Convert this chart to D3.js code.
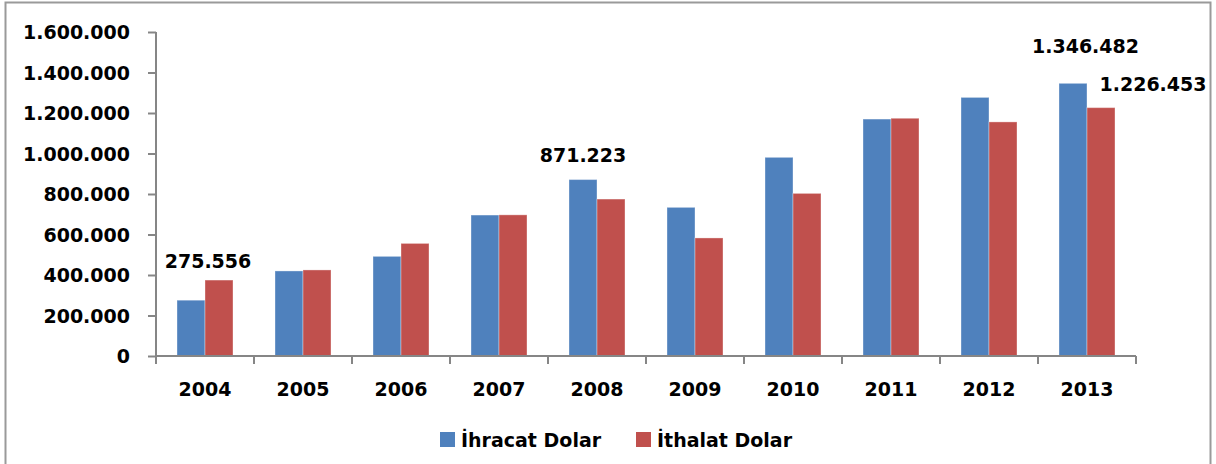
<!DOCTYPE html>
<html>
<head>
<meta charset="utf-8">
<script src="https://cdn.jsdelivr.net/npm/d3@7"></script>
<style>
  body { margin: 0; background: #fff; }
  text { font-family: "DejaVu Sans", sans-serif; font-weight: bold; fill: #000; }
</style>
</head>
<body>
<script>
// chart data
var years = ['2004', '2005', '2006', '2007', '2008', '2009', '2010', '2011', '2012', '2013'];
var ihracat = [275556, 420000, 492000, 696000, 871223, 734000, 981000, 1170000, 1277000, 1346482];
var ithalat = [375000, 425000, 556000, 697000, 775000, 583000, 803000, 1174000, 1156000, 1226453];
var seriesNames = ['İhracat Dolar', 'İthalat Dolar'];
var yTicks = [0, 200000, 400000, 600000, 800000, 1000000, 1200000, 1400000, 1600000];

// which values get a label: [series index, year index]
var labelled = [[0, 0], [0, 4], [0, 9], [1, 9]];

var width = 1216, height = 464;
var colors = ['#4F81BD', '#C0504D'];

var svg = d3.select('body').append('svg')
    .attr('width', width)
    .attr('height', height);

// outer frame
svg.append('rect')
    .attr('x', 5.5).attr('y', 2.5)
    .attr('width', 1205).attr('height', 470)
    .attr('fill', 'none')
    .attr('stroke', '#9a9a9a')
    .attr('stroke-width', 2);

var x = d3.scaleBand().domain(years).range([156, 1136]);
var y = d3.scaleLinear().domain([0, 1600000]).range([356, 32]);

var barW = 28;

// dotted thousands, like the Turkish original
function fmt(v) {
    return d3.format(',')(v).replace(/,/g, '.');
}

// bars
var series = [ihracat, ithalat];
series.forEach(function(vals, s) {
    svg.append('g').selectAll('rect')
        .data(vals)
        .enter().append('rect')
        .attr('x', function(d, i) { return x(years[i]) + x.bandwidth() / 2 - barW + s * barW; })
        .attr('y', function(d) { return y(d); })
        .attr('width', barW)
        .attr('height', function(d) { return y(0) - y(d); })
        .attr('fill', colors[s])
        .attr('stroke', 'rgba(255,255,255,0.35)')
        .attr('stroke-width', 1);
});

// y axis
var yAxis = svg.append('g')
    .attr('transform', 'translate(156,0)')
    .call(d3.axisLeft(y).tickValues(yTicks).tickSize(8).tickPadding(18).tickFormat(fmt));

// x axis, ticks on the band edges
var xAxis = svg.append('g')
    .attr('transform', 'translate(0,356)')
    .call(d3.axisBottom(x).tickSize(0).tickPadding(27));

xAxis.selectAll('.edge')
    .data(d3.range(years.length + 1))
    .enter().append('line')
    .attr('class', 'edge')
    .attr('x1', function(i) { return 156 + i * x.bandwidth(); })
    .attr('x2', function(i) { return 156 + i * x.bandwidth(); })
    .attr('y1', 0).attr('y2', 8);

svg.selectAll('.domain, .tick line, .edge')
    .attr('stroke', '#868686')
    .attr('stroke-width', 2);
yAxis.select('.domain').attr('d', 'M0,32V356');
xAxis.select('.domain').attr('d', 'M156,0H1136');

svg.selectAll('.tick text')
    .style('font-family', '"DejaVu Sans", sans-serif')
    .style('font-weight', 'bold')
    .style('font-size', '19px')
    .attr('fill', '#000');
yAxis.selectAll('.tick text').attr('dy', '0.36em');

// data labels, nudged by hand like in the source
var labelNudge = [[3, -32], [-14, -18], [-1.5, -30], [66, -17]];
svg.append('g').selectAll('text')
    .data(labelled)
    .enter().append('text')
    .attr('x', function(d, i) { return x(years[d[1]]) + x.bandwidth() / 2 + labelNudge[i][0]; })
    .attr('y', function(d, i) {
        var v = series[d[0]][d[1]];
        return (d[0] === 0 ? y(v) : y(series[1][d[1]])) + labelNudge[i][1];
    })
    .attr('text-anchor', 'middle')
    .style('font-size', '19px')
    .text(function(d) { return fmt(series[d[0]][d[1]]); });

// legend
var legend = svg.append('g');
var legX = [440, 636];
seriesNames.forEach(function(name, s) {
    legend.append('rect')
        .attr('x', legX[s]).attr('y', 432)
        .attr('width', 15).attr('height', 15)
        .attr('fill', colors[s]);
    legend.append('text')
        .attr('x', legX[s] + 21).attr('y', 446.5)
        .style('font-size', '19px')
        .text(name);
});
</script>
</body>
</html>
